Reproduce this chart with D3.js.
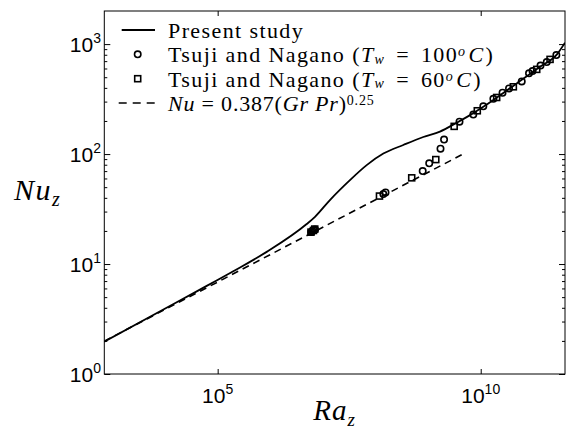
<!DOCTYPE html>
<html><head><meta charset="utf-8">
<script src="https://cdn.jsdelivr.net/npm/d3@7"></script>
<style>body{margin:0;background:#fff}svg{display:block}</style>
</head><body>
<script>
// ---- data ----
const raPresent = [698, 1.07e4, 4.6e4, 1.98e5, 8.55e5, 4.92e6, 7.08e6, 1.36e7, 3.27e7, 6.8e7, 1.41e8, 3.38e8, 8.1e8, 1.68e9, 3.5e9, 6.26e9, 1.12e10, 4.83e10, 1.34e11, 2.84e11, 4.0e11];
const nuPresent = [1.97, 4.0, 5.85, 8.6, 12.9, 23.1, 26.9, 38.2, 58, 79.4, 101, 121, 143, 160, 193, 226, 269, 439, 622, 811, 1030];
const raCircle = [6.0e6, 6.34e6, 7.08e6, 1.41e8, 1.55e8, 7.89e8, 1.05e9, 1.72e9, 2.01e9, 3.95e9, 7.23e9, 1.12e10, 1.74e10, 2.60e10, 3.45e10, 6.02e10, 8.28e10, 9.66e10, 1.37e11, 1.80e11, 2.74e11];
const nuCircle = [19.6, 19.95, 20.6, 43.3, 44.7, 70.0, 82.3, 112, 135.5, 197, 228.6, 271.5, 318, 361, 395, 458, 542, 569, 638, 686, 794];
const raSquare = [5.94e6, 6.62e6, 7.0e6, 1.19e8, 4.88e8, 1.40e9, 3.13e9, 8.61e9, 2.01e10, 4.17e10, 1.16e11, 2.08e11];
const nuSquare = [19.5, 20.2, 20.8, 41.5, 60.8, 89.1, 178.6, 247.6, 327, 409, 589, 726];
const raCorr = [700, 5e9];
const nuCorr = [1.99, 102];
const xTickExp = [5, 10];
const yTickExp = [0, 1, 2, 3];

const W = 585, H = 432;
const svg = d3.select("body").append("svg").attr("width", W).attr("height", H);
const x = d3.scaleLog().domain([700, 4e11]).range([104.3, 565]);
const y = d3.scaleLog().domain([1, 2000]).range([374, 11]);
const [x0, x1] = x.range(), [y0, y1] = y.range();

svg.append("defs").append("clipPath").attr("id", "clip")
  .append("rect").attr("x", x0).attr("y", y1).attr("width", x1 - x0).attr("height", y0 - y1);

// ticks
const xMajor = xTickExp.map(e => Math.pow(10, e));
const yMajor = yTickExp.map(e => Math.pow(10, e));
const yMinor = [];
[0, 1, 2, 3].forEach(e => { for (let k = 2; k <= 9; k++) { const v = k * Math.pow(10, e); if (v < 2000) yMinor.push(v); } });

function strip(g) { g.select(".domain").remove(); g.selectAll("text").remove(); g.selectAll("line").attr("stroke", "#000").attr("stroke-width", 1); }
svg.append("g").attr("transform", `translate(0,${y0})`).call(d3.axisBottom(x).tickValues(xMajor).tickSize(-5).tickSizeOuter(0)).call(strip);
svg.append("g").attr("transform", `translate(0,${y1})`).call(d3.axisTop(x).tickValues(xMajor).tickSize(-5).tickSizeOuter(0)).call(strip);
svg.append("g").attr("transform", `translate(${x0},0)`).call(d3.axisLeft(y).tickValues(yMajor).tickSize(-6).tickSizeOuter(0)).call(strip);
svg.append("g").attr("transform", `translate(${x0},0)`).call(d3.axisLeft(y).tickValues(yMinor).tickSize(-3).tickSizeOuter(0)).call(strip);
svg.append("g").attr("transform", `translate(${x1},0)`).call(d3.axisRight(y).tickValues(yMajor).tickSize(-6).tickSizeOuter(0)).call(strip);
svg.append("g").attr("transform", `translate(${x1},0)`).call(d3.axisRight(y).tickValues(yMinor).tickSize(-3).tickSizeOuter(0)).call(strip);

// frame
svg.append("rect").attr("x", x0).attr("y", y1).attr("width", x1 - x0).attr("height", y0 - y1)
  .attr("fill", "none").attr("stroke", "#000").attr("stroke-width", 1);

// tick labels
const tf = "'Liberation Sans', Arial, sans-serif";
xTickExp.forEach(e => {
  const t = svg.append("text").attr("x", x(Math.pow(10, e))).attr("y", 403).attr("text-anchor", "middle")
    .attr("font-family", tf).attr("font-size", 21).attr("fill", "#000");
  t.append("tspan").text("10");
  t.append("tspan").attr("font-size", 14).attr("dy", -9).text(e);
});
yTickExp.forEach(e => {
  const t = svg.append("text").attr("x", 101).attr("y", y(Math.pow(10, e)) + 7.5).attr("text-anchor", "end")
    .attr("font-family", tf).attr("font-size", 21).attr("fill", "#000");
  t.append("tspan").text("10");
  t.append("tspan").attr("font-size", 14).attr("dy", -9).text(e);
});

// axis titles
const sf = "'Liberation Serif', 'Times New Roman', serif";
const rt = svg.append("text").attr("x", (x0 + x1) / 2).attr("y", 420).attr("text-anchor", "middle")
  .attr("font-family", sf).attr("font-style", "italic").attr("font-size", 29).attr("letter-spacing", "1px");
rt.append("tspan").text("Ra");
rt.append("tspan").attr("font-size", 19).attr("dy", 6).text("z");
const nt = svg.append("text").attr("x", 14).attr("y", 200)
  .attr("font-family", sf).attr("font-style", "italic").attr("font-size", 30).attr("letter-spacing", "1.5px");
nt.append("tspan").text("Nu");
nt.append("tspan").attr("font-size", 20).attr("dy", 6).text("z");

// plot content
const plot = svg.append("g").attr("clip-path", "url(#clip)");
const line = d3.line().x(d => x(d[0])).y(d => y(d[1]));
plot.append("path").datum(d3.zip(raCorr, nuCorr)).attr("d", line)
  .attr("fill", "none").attr("stroke", "#000").attr("stroke-width", 1.6).attr("stroke-dasharray", "7,5");
plot.append("path").datum(d3.zip(raPresent, nuPresent)).attr("d", d3.line().curve(d3.curveMonotoneX).x(d => x(d[0])).y(d => y(d[1])))
  .attr("fill", "none").attr("stroke", "#000").attr("stroke-width", 1.8);
plot.selectAll("circle.c").data(d3.zip(raCircle, nuCircle)).join("circle").attr("class", "c")
  .attr("cx", d => x(d[0])).attr("cy", d => y(d[1])).attr("r", 3.2)
  .attr("fill", "none").attr("stroke", "#000").attr("stroke-width", 1.6);
plot.selectAll("rect.s").data(d3.zip(raSquare, nuSquare)).join("rect").attr("class", "s")
  .attr("x", d => x(d[0]) - 3).attr("y", d => y(d[1]) - 3).attr("width", 6).attr("height", 6)
  .attr("fill", "none").attr("stroke", "#000").attr("stroke-width", 1.6);

// legend
const lg = svg.append("g");
const rows = [30, 54.3, 78.7, 103];
const lx0 = 121.7, lx1 = 155, lxm = 137.7, tx = 168;
lg.append("line").attr("x1", lx0).attr("x2", lx1).attr("y1", rows[0]).attr("y2", rows[0]).attr("stroke", "#000").attr("stroke-width", 1.8);
lg.append("circle").attr("cx", lxm).attr("cy", rows[1]).attr("r", 3.2).attr("fill", "none").attr("stroke", "#000").attr("stroke-width", 1.6);
lg.append("rect").attr("x", lxm - 3).attr("y", rows[2] - 3).attr("width", 6).attr("height", 6).attr("fill", "none").attr("stroke", "#000").attr("stroke-width", 1.6);
lg.append("line").attr("x1", lx0 - 3).attr("x2", lx1 + 2).attr("y1", rows[3]).attr("y2", rows[3]).attr("stroke", "#000").attr("stroke-width", 1.6).attr("stroke-dasharray", "8,6");

function ltext(i, ls) {
  return lg.append("text").attr("x", tx).attr("y", rows[i] + 8).attr("font-family", sf).attr("font-size", 22)
    .attr("letter-spacing", ls + "px").attr("fill", "#000");
}
ltext(0, 1.4).text("Present study");
[["100"], ["60"]].forEach((v, k) => {
  const t = ltext(k + 1, 1.4);
  t.append("tspan").text("Tsuji and Nagano (");
  t.append("tspan").attr("font-style", "italic").text("T");
  t.append("tspan").attr("font-style", "italic").attr("font-size", 14).attr("dy", 1.5).text("w");
  t.append("tspan").attr("dy", -1.5).attr("word-spacing", "4px").text(" = " + v[0]);
  t.append("tspan").attr("font-style", "italic").attr("font-size", 14).attr("dy", -6).text("o");
  t.append("tspan").attr("font-style", "italic").attr("dy", 6).attr("dx", 2).text("C");
  t.append("tspan").attr("dx", 1).text(")");
});
{
  const t = ltext(3, 0.8);
  t.append("tspan").attr("font-style", "italic").text("Nu");
  t.append("tspan").text(" = 0.387(");
  t.append("tspan").attr("font-style", "italic").text("Gr Pr");
  t.append("tspan").text(")");
  t.append("tspan").attr("font-size", 14).attr("dy", -6.5).text("0.25");
}
</script>
</body></html>
